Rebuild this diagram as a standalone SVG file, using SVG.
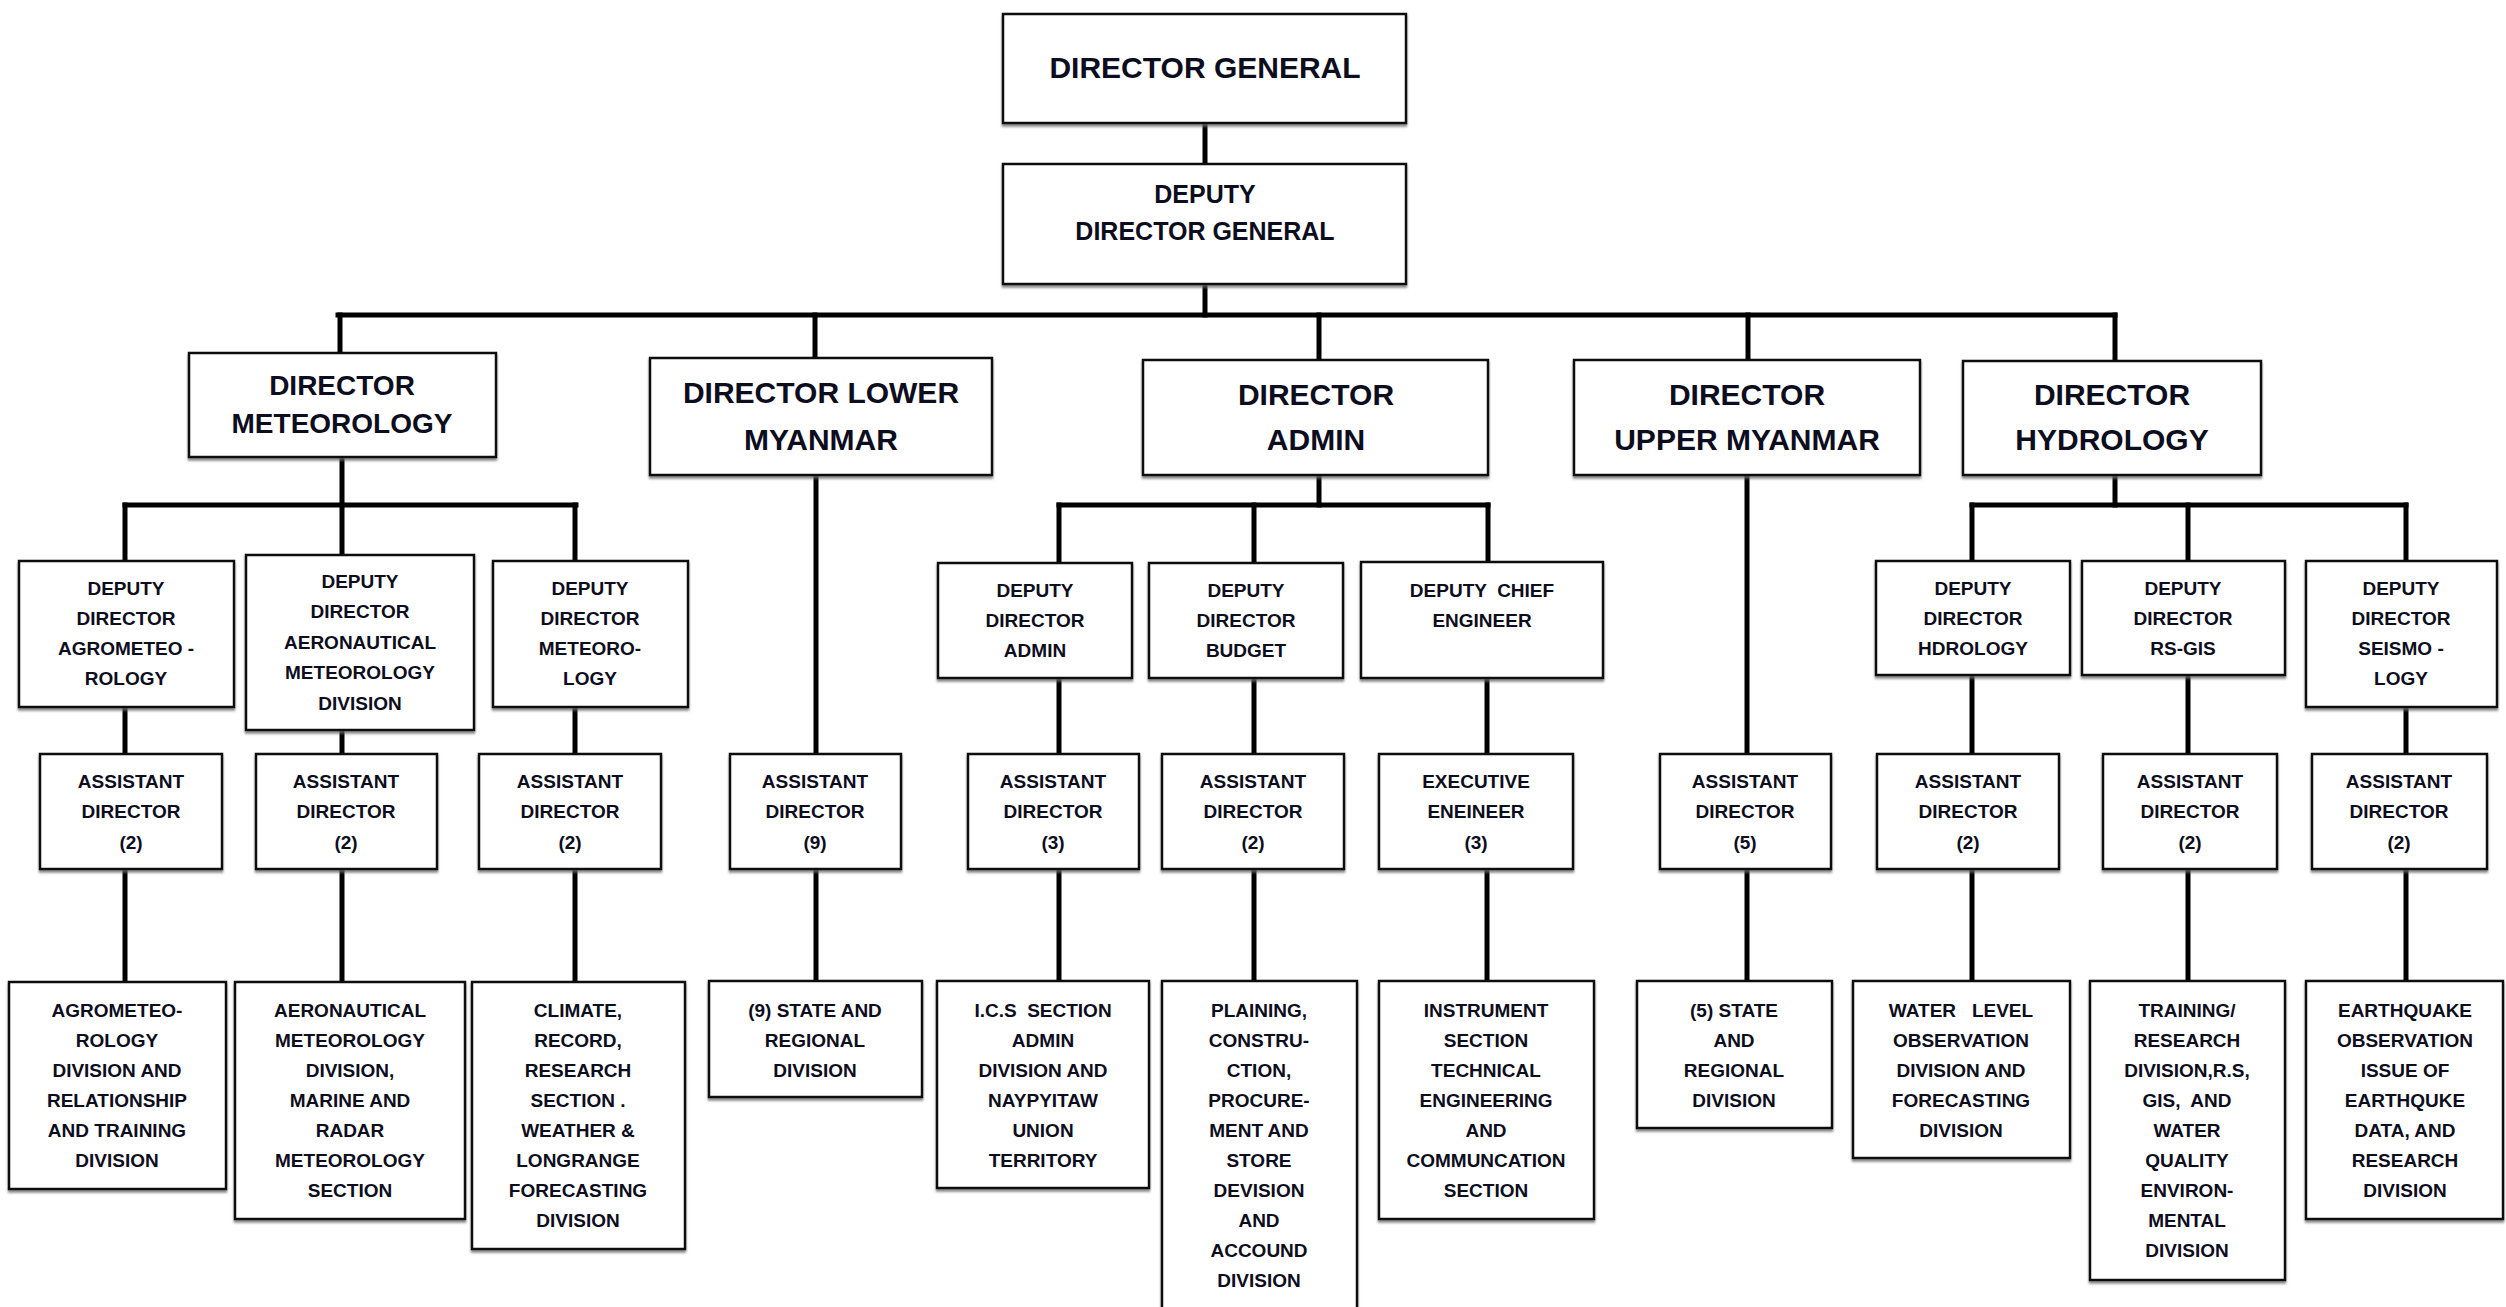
<svg xmlns="http://www.w3.org/2000/svg" width="2506" height="1307" viewBox="0 0 2506 1307">
<defs>
<filter id="sh" x="-5%" y="-5%" width="110%" height="115%">
<feDropShadow dx="0" dy="2.5" stdDeviation="1" flood-color="#666" flood-opacity="0.8"/>
</filter>
<style>
.box{fill:#fff;stroke:#111;stroke-width:2.5;filter:url(#sh)}
text{font-family:"Liberation Sans",Arial,sans-serif;font-weight:bold;fill:#0d0d20;text-anchor:middle}
.l0{font-size:30px}
.l1{font-size:30px}
.l1s{font-size:28px}
.l2{font-size:19px}
.c line{stroke:#000;stroke-width:5;stroke-linecap:square}
</style>
</defs>
<rect width="2506" height="1307" fill="#fff"/>

<g class="c" id="connectors">
<line x1="1205" y1="123" x2="1205" y2="164"/>
<line x1="1205" y1="284" x2="1205" y2="315"/>
<line x1="338" y1="315" x2="2115" y2="315"/>
<line x1="340" y1="315" x2="340" y2="353"/>
<line x1="815" y1="315" x2="815" y2="358"/>
<line x1="1319" y1="315" x2="1319" y2="360"/>
<line x1="1748" y1="315" x2="1748" y2="360"/>
<line x1="2115" y1="315" x2="2115" y2="361"/>
<!-- meteorology -->
<line x1="342" y1="457" x2="342" y2="505"/>
<line x1="125" y1="505" x2="576" y2="505"/>
<line x1="125" y1="505" x2="125" y2="561"/>
<line x1="342" y1="505" x2="342" y2="555"/>
<line x1="575" y1="505" x2="575" y2="561"/>
<line x1="125" y1="707" x2="125" y2="754"/>
<line x1="125" y1="869" x2="125" y2="982"/>
<line x1="342" y1="730" x2="342" y2="754"/>
<line x1="342" y1="869" x2="342" y2="982"/>
<line x1="575" y1="707" x2="575" y2="754"/>
<line x1="575" y1="869" x2="575" y2="982"/>
<!-- lower -->
<line x1="816" y1="475" x2="816" y2="754"/>
<line x1="816" y1="869" x2="816" y2="981"/>
<!-- admin -->
<line x1="1319" y1="475" x2="1319" y2="505"/>
<line x1="1059" y1="505" x2="1488" y2="505"/>
<line x1="1059" y1="505" x2="1059" y2="563"/>
<line x1="1254" y1="505" x2="1254" y2="563"/>
<line x1="1488" y1="505" x2="1488" y2="562"/>
<line x1="1059" y1="678" x2="1059" y2="754"/>
<line x1="1059" y1="869" x2="1059" y2="981"/>
<line x1="1254" y1="678" x2="1254" y2="754"/>
<line x1="1254" y1="869" x2="1254" y2="981"/>
<line x1="1487" y1="678" x2="1487" y2="754"/>
<line x1="1487" y1="869" x2="1487" y2="981"/>
<!-- upper -->
<line x1="1747" y1="475" x2="1747" y2="754"/>
<line x1="1747" y1="869" x2="1747" y2="981"/>
<!-- hydrology -->
<line x1="2115" y1="475" x2="2115" y2="505"/>
<line x1="1972" y1="505" x2="2406" y2="505"/>
<line x1="1972" y1="505" x2="1972" y2="561"/>
<line x1="2188" y1="505" x2="2188" y2="561"/>
<line x1="2406" y1="505" x2="2406" y2="561"/>
<line x1="1972" y1="675" x2="1972" y2="754"/>
<line x1="1972" y1="869" x2="1972" y2="981"/>
<line x1="2188" y1="675" x2="2188" y2="754"/>
<line x1="2188" y1="869" x2="2188" y2="981"/>
<line x1="2406" y1="707" x2="2406" y2="754"/>
<line x1="2406" y1="869" x2="2406" y2="981"/>
</g>

<g id="dg"><rect class="box" x="1003" y="14" width="403" height="109"/>
<text class="l0" x="1205" y="78">DIRECTOR GENERAL</text></g>
<g id="ddg"><rect class="box" x="1003" y="164" width="403" height="120"/>
<text class="l2" style="font-size:25px"><tspan x="1205" y="203">DEPUTY</tspan><tspan x="1205" y="240">DIRECTOR GENERAL</tspan></text></g>

<g id="dir-met"><rect class="box" x="189" y="353" width="307" height="104"/>
<text class="l1s"><tspan x="342" y="395">DIRECTOR</tspan><tspan x="342" y="433">METEOROLOGY</tspan></text></g>
<g id="dir-lower"><rect class="box" x="650" y="358" width="342" height="117"/>
<text class="l1"><tspan x="821" y="403">DIRECTOR LOWER</tspan><tspan x="821" y="450">MYANMAR</tspan></text></g>
<g id="dir-admin"><rect class="box" x="1143" y="360" width="345" height="115"/>
<text class="l1"><tspan x="1316" y="405">DIRECTOR</tspan><tspan x="1316" y="450">ADMIN</tspan></text></g>
<g id="dir-upper"><rect class="box" x="1574" y="360" width="346" height="115"/>
<text class="l1"><tspan x="1747" y="405">DIRECTOR</tspan><tspan x="1747" y="450">UPPER MYANMAR</tspan></text></g>
<g id="dir-hydro"><rect class="box" x="1963" y="361" width="298" height="114"/>
<text class="l1"><tspan x="2112" y="405">DIRECTOR</tspan><tspan x="2112" y="450">HYDROLOGY</tspan></text></g>

<g id="dep-agro"><rect class="box" x="19" y="561" width="215" height="146"/>
<text class="l2"><tspan x="126" y="595">DEPUTY</tspan><tspan x="126" y="625">DIRECTOR</tspan><tspan x="126" y="655">AGROMETEO -</tspan><tspan x="126" y="685">ROLOGY</tspan></text></g>
<g id="dep-aero"><rect class="box" x="246" y="555" width="228" height="175"/>
<text class="l2"><tspan x="360" y="588">DEPUTY</tspan><tspan x="360" y="618">DIRECTOR</tspan><tspan x="360" y="649">AERONAUTICAL</tspan><tspan x="360" y="679">METEOROLOGY</tspan><tspan x="360" y="710">DIVISION</tspan></text></g>
<g id="dep-met"><rect class="box" x="493" y="561" width="195" height="146"/>
<text class="l2"><tspan x="590" y="595">DEPUTY</tspan><tspan x="590" y="625">DIRECTOR</tspan><tspan x="590" y="655">METEORO-</tspan><tspan x="590" y="685">LOGY</tspan></text></g>
<g id="dep-admin"><rect class="box" x="938" y="563" width="194" height="115"/>
<text class="l2"><tspan x="1035" y="597">DEPUTY</tspan><tspan x="1035" y="627">DIRECTOR</tspan><tspan x="1035" y="657">ADMIN</tspan></text></g>
<g id="dep-budget"><rect class="box" x="1149" y="563" width="194" height="115"/>
<text class="l2"><tspan x="1246" y="597">DEPUTY</tspan><tspan x="1246" y="627">DIRECTOR</tspan><tspan x="1246" y="657">BUDGET</tspan></text></g>
<g id="dep-chief"><rect class="box" x="1361" y="562" width="242" height="116"/>
<text class="l2" style="white-space:pre"><tspan x="1482" y="597">DEPUTY  CHIEF</tspan><tspan x="1482" y="627">ENGINEER</tspan></text></g>
<g id="dep-hdro"><rect class="box" x="1876" y="561" width="194" height="114"/>
<text class="l2"><tspan x="1973" y="595">DEPUTY</tspan><tspan x="1973" y="625">DIRECTOR</tspan><tspan x="1973" y="655">HDROLOGY</tspan></text></g>
<g id="dep-rsgis"><rect class="box" x="2082" y="561" width="203" height="114"/>
<text class="l2"><tspan x="2183" y="595">DEPUTY</tspan><tspan x="2183" y="625">DIRECTOR</tspan><tspan x="2183" y="655">RS-GIS</tspan></text></g>
<g id="dep-seismo"><rect class="box" x="2306" y="561" width="191" height="146"/>
<text class="l2"><tspan x="2401" y="595">DEPUTY</tspan><tspan x="2401" y="625">DIRECTOR</tspan><tspan x="2401" y="655">SEISMO -</tspan><tspan x="2401" y="685">LOGY</tspan></text></g>

<g id="asst-agro"><rect class="box" x="40" y="754" width="182" height="115"/>
<text class="l2"><tspan x="131" y="788">ASSISTANT</tspan><tspan x="131" y="818">DIRECTOR</tspan><tspan x="131" y="849">(2)</tspan></text></g>
<g id="asst-aero"><rect class="box" x="256" y="754" width="181" height="115"/>
<text class="l2"><tspan x="346" y="788">ASSISTANT</tspan><tspan x="346" y="818">DIRECTOR</tspan><tspan x="346" y="849">(2)</tspan></text></g>
<g id="asst-met"><rect class="box" x="479" y="754" width="182" height="115"/>
<text class="l2"><tspan x="570" y="788">ASSISTANT</tspan><tspan x="570" y="818">DIRECTOR</tspan><tspan x="570" y="849">(2)</tspan></text></g>
<g id="asst-lower"><rect class="box" x="730" y="754" width="171" height="115"/>
<text class="l2"><tspan x="815" y="788">ASSISTANT</tspan><tspan x="815" y="818">DIRECTOR</tspan><tspan x="815" y="849">(9)</tspan></text></g>
<g id="asst-admin"><rect class="box" x="968" y="754" width="171" height="115"/>
<text class="l2"><tspan x="1053" y="788">ASSISTANT</tspan><tspan x="1053" y="818">DIRECTOR</tspan><tspan x="1053" y="849">(3)</tspan></text></g>
<g id="asst-budget"><rect class="box" x="1162" y="754" width="182" height="115"/>
<text class="l2"><tspan x="1253" y="788">ASSISTANT</tspan><tspan x="1253" y="818">DIRECTOR</tspan><tspan x="1253" y="849">(2)</tspan></text></g>
<g id="exec-eng"><rect class="box" x="1379" y="754" width="194" height="115"/>
<text class="l2"><tspan x="1476" y="788">EXECUTIVE</tspan><tspan x="1476" y="818">ENEINEER</tspan><tspan x="1476" y="849">(3)</tspan></text></g>
<g id="asst-upper"><rect class="box" x="1660" y="754" width="171" height="115"/>
<text class="l2"><tspan x="1745" y="788">ASSISTANT</tspan><tspan x="1745" y="818">DIRECTOR</tspan><tspan x="1745" y="849">(5)</tspan></text></g>
<g id="asst-hydro"><rect class="box" x="1877" y="754" width="182" height="115"/>
<text class="l2"><tspan x="1968" y="788">ASSISTANT</tspan><tspan x="1968" y="818">DIRECTOR</tspan><tspan x="1968" y="849">(2)</tspan></text></g>
<g id="asst-rsgis"><rect class="box" x="2103" y="754" width="174" height="115"/>
<text class="l2"><tspan x="2190" y="788">ASSISTANT</tspan><tspan x="2190" y="818">DIRECTOR</tspan><tspan x="2190" y="849">(2)</tspan></text></g>
<g id="asst-seismo"><rect class="box" x="2312" y="754" width="175" height="115"/>
<text class="l2"><tspan x="2399" y="788">ASSISTANT</tspan><tspan x="2399" y="818">DIRECTOR</tspan><tspan x="2399" y="849">(2)</tspan></text></g>

<g id="div-agro"><rect class="box" x="9" y="982" width="217" height="207"/>
<text class="l2"><tspan x="117" y="1017">AGROMETEO-</tspan><tspan x="117" y="1047">ROLOGY</tspan><tspan x="117" y="1077">DIVISION AND</tspan><tspan x="117" y="1107">RELATIONSHIP</tspan><tspan x="117" y="1137">AND TRAINING</tspan><tspan x="117" y="1167">DIVISION</tspan></text></g>
<g id="div-aero"><rect class="box" x="235" y="982" width="230" height="237"/>
<text class="l2"><tspan x="350" y="1017">AERONAUTICAL</tspan><tspan x="350" y="1047">METEOROLOGY</tspan><tspan x="350" y="1077">DIVISION,</tspan><tspan x="350" y="1107">MARINE AND</tspan><tspan x="350" y="1137">RADAR</tspan><tspan x="350" y="1167">METEOROLOGY</tspan><tspan x="350" y="1197">SECTION</tspan></text></g>
<g id="div-climate"><rect class="box" x="472" y="982" width="213" height="267"/>
<text class="l2"><tspan x="578" y="1017">CLIMATE,</tspan><tspan x="578" y="1047">RECORD,</tspan><tspan x="578" y="1077">RESEARCH</tspan><tspan x="578" y="1107">SECTION .</tspan><tspan x="578" y="1137">WEATHER &amp;</tspan><tspan x="578" y="1167">LONGRANGE</tspan><tspan x="578" y="1197">FORECASTING</tspan><tspan x="578" y="1227">DIVISION</tspan></text></g>
<g id="div-state9"><rect class="box" x="709" y="981" width="213" height="116"/>
<text class="l2"><tspan x="815" y="1017">(9) STATE AND</tspan><tspan x="815" y="1047">REGIONAL</tspan><tspan x="815" y="1077">DIVISION</tspan></text></g>
<g id="div-ics"><rect class="box" x="937" y="981" width="212" height="207"/>
<text class="l2" style="white-space:pre"><tspan x="1043" y="1017">I.C.S  SECTION</tspan><tspan x="1043" y="1047">ADMIN</tspan><tspan x="1043" y="1077">DIVISION AND</tspan><tspan x="1043" y="1107">NAYPYITAW</tspan><tspan x="1043" y="1137">UNION</tspan><tspan x="1043" y="1167">TERRITORY</tspan></text></g>
<g id="div-plan"><rect class="box" x="1162" y="981" width="195" height="335"/>
<text class="l2"><tspan x="1259" y="1017">PLAINING,</tspan><tspan x="1259" y="1047">CONSTRU-</tspan><tspan x="1259" y="1077">CTION,</tspan><tspan x="1259" y="1107">PROCURE-</tspan><tspan x="1259" y="1137">MENT AND</tspan><tspan x="1259" y="1167">STORE</tspan><tspan x="1259" y="1197">DEVISION</tspan><tspan x="1259" y="1227">AND</tspan><tspan x="1259" y="1257">ACCOUND</tspan><tspan x="1259" y="1287">DIVISION</tspan></text></g>
<g id="div-instr"><rect class="box" x="1379" y="981" width="215" height="238"/>
<text class="l2"><tspan x="1486" y="1017">INSTRUMENT</tspan><tspan x="1486" y="1047">SECTION</tspan><tspan x="1486" y="1077">TECHNICAL</tspan><tspan x="1486" y="1107">ENGINEERING</tspan><tspan x="1486" y="1137">AND</tspan><tspan x="1486" y="1167">COMMUNCATION</tspan><tspan x="1486" y="1197">SECTION</tspan></text></g>
<g id="div-state5"><rect class="box" x="1637" y="981" width="195" height="147"/>
<text class="l2"><tspan x="1734" y="1017">(5) STATE</tspan><tspan x="1734" y="1047">AND</tspan><tspan x="1734" y="1077">REGIONAL</tspan><tspan x="1734" y="1107">DIVISION</tspan></text></g>
<g id="div-water"><rect class="box" x="1853" y="981" width="217" height="177"/>
<text class="l2" style="white-space:pre"><tspan x="1961" y="1017">WATER   LEVEL</tspan><tspan x="1961" y="1047">OBSERVATION</tspan><tspan x="1961" y="1077">DIVISION AND</tspan><tspan x="1961" y="1107">FORECASTING</tspan><tspan x="1961" y="1137">DIVISION</tspan></text></g>
<g id="div-training"><rect class="box" x="2090" y="981" width="195" height="299"/>
<text class="l2" style="white-space:pre"><tspan x="2187" y="1017">TRAINING/</tspan><tspan x="2187" y="1047">RESEARCH</tspan><tspan x="2187" y="1077">DIVISION,R.S,</tspan><tspan x="2187" y="1107">GIS,  AND</tspan><tspan x="2187" y="1137">WATER</tspan><tspan x="2187" y="1167">QUALITY</tspan><tspan x="2187" y="1197">ENVIRON-</tspan><tspan x="2187" y="1227">MENTAL</tspan><tspan x="2187" y="1257">DIVISION</tspan></text></g>
<g id="div-quake"><rect class="box" x="2306" y="981" width="197" height="238"/>
<text class="l2"><tspan x="2405" y="1017">EARTHQUAKE</tspan><tspan x="2405" y="1047">OBSERVATION</tspan><tspan x="2405" y="1077">ISSUE OF</tspan><tspan x="2405" y="1107">EARTHQUKE</tspan><tspan x="2405" y="1137">DATA, AND</tspan><tspan x="2405" y="1167">RESEARCH</tspan><tspan x="2405" y="1197">DIVISION</tspan></text></g>
</svg>
